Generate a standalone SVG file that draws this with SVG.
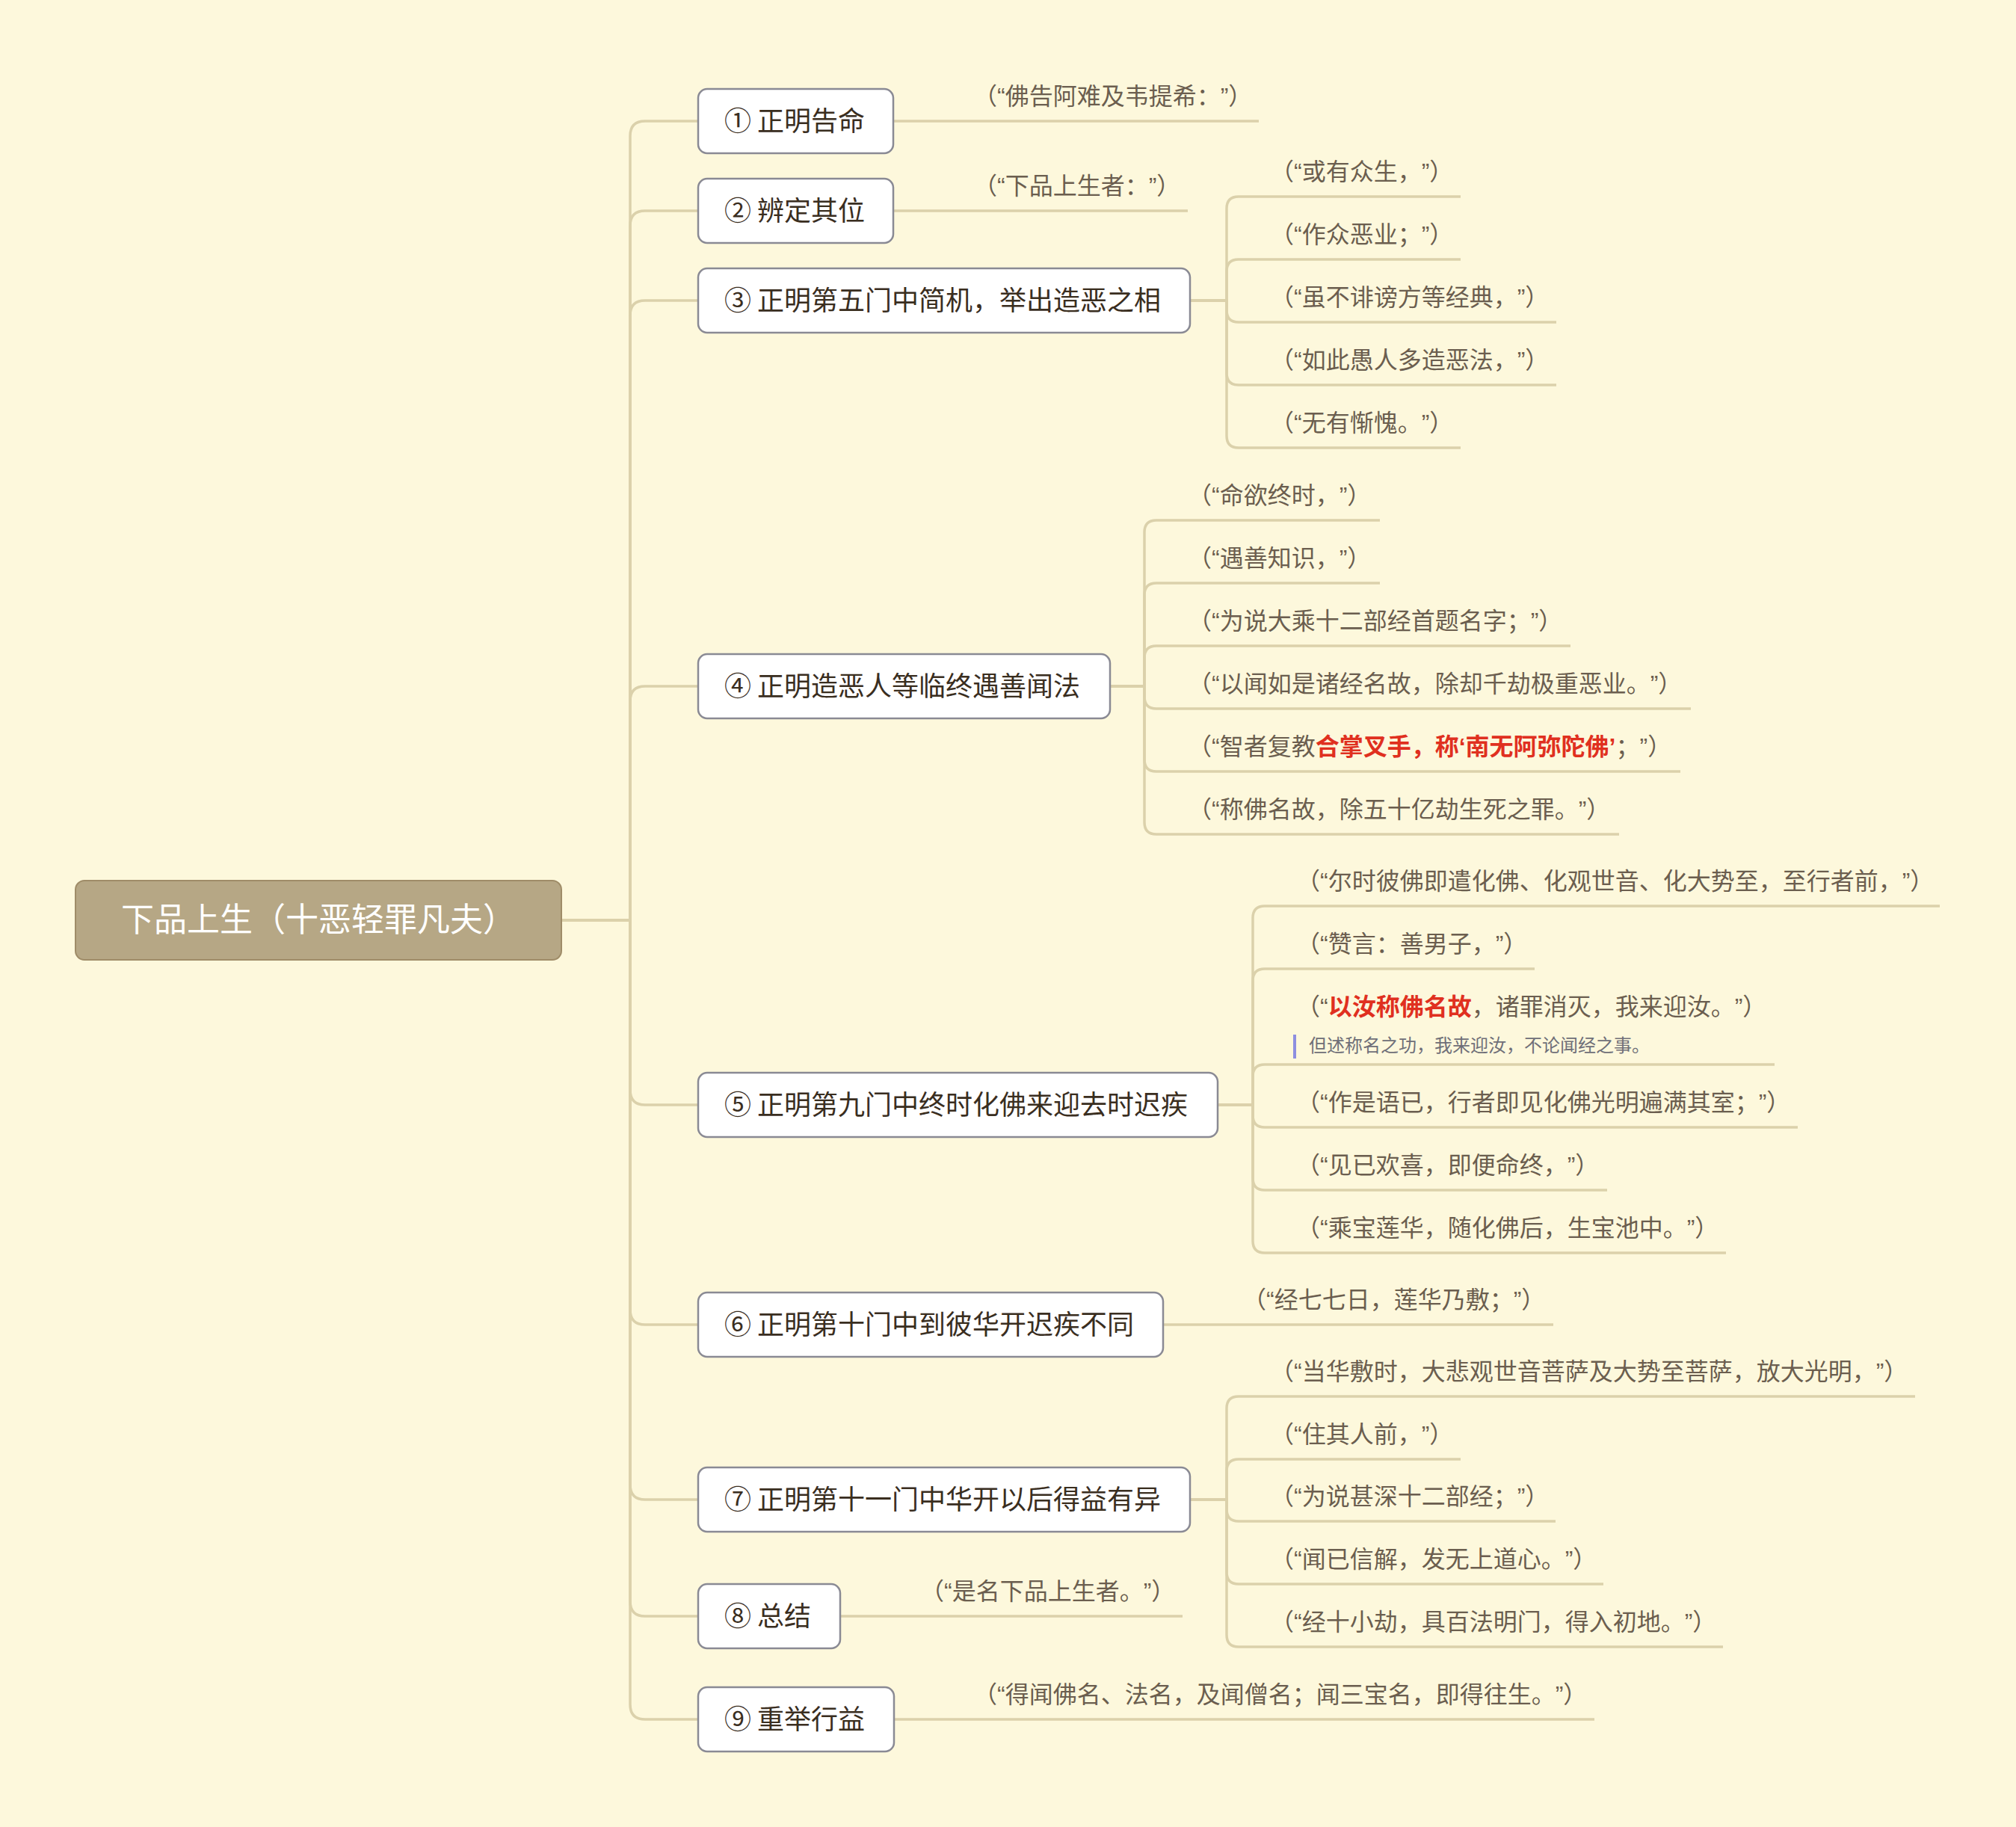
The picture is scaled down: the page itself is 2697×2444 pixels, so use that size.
<svg xmlns="http://www.w3.org/2000/svg" width="2697" height="2444" viewBox="0 0 2697 2444">
<style>
text{text-spacing-trim:space-all;font-feature-settings:"halt" 0,"chws" 0}
.bg{fill:#fdf8dc}
.ln{fill:none;stroke:#dbd1ab;stroke-width:3.5;stroke-linecap:butt}
.root{fill:#b6a785;stroke:#9f8c68;stroke-width:2}
.rt{font-family:"Noto Sans CJK SC",sans-serif;font-size:44px;fill:#ffffff}
.box{fill:#ffffff;stroke:#8a8a94;stroke-width:2.5}
.nt{font-family:"Noto Sans CJK SC",sans-serif;font-size:36px;fill:#3a2e1f}
.lt{font-family:"Liberation Sans","Noto Sans CJK SC",sans-serif;font-size:32px;fill:#6b5e4f}
.red{fill:#e0301f;font-weight:bold}
.note{font-family:"Noto Sans CJK SC",sans-serif;font-size:24px;fill:#6f6f78}
.bar{fill:#8e8fe0}
</style>
<rect class="bg" x="0" y="0" width="2697" height="2444"/>
<g id="connectors">
<path class="ln" d="M751,1231 H843 V182 Q843,162 863,162 H934"/>
<path class="ln" d="M751,1231 H843 V302 Q843,282 863,282 H934"/>
<path class="ln" d="M751,1231 H843 V422 Q843,402 863,402 H934"/>
<path class="ln" d="M751,1231 H843 V938 Q843,918 863,918 H934"/>
<path class="ln" d="M751,1231 H843 V1458 Q843,1478 863,1478 H934"/>
<path class="ln" d="M751,1231 H843 V1752 Q843,1772 863,1772 H934"/>
<path class="ln" d="M751,1231 H843 V1986 Q843,2006 863,2006 H934"/>
<path class="ln" d="M751,1231 H843 V2142 Q843,2162 863,2162 H934"/>
<path class="ln" d="M751,1231 H843 V2280 Q843,2300 863,2300 H934"/>
<path class="ln" d="M1195,162 H1684"/>
<path class="ln" d="M1195,282 H1589"/>
<path class="ln" d="M1592,402 H1641 V279 Q1641,263 1657,263 H1954"/>
<path class="ln" d="M1592,402 H1641 V363 Q1641,347 1657,347 H1954"/>
<path class="ln" d="M1592,402 H1641 V415 Q1641,431 1657,431 H2082"/>
<path class="ln" d="M1592,402 H1641 V499 Q1641,515 1657,515 H2082"/>
<path class="ln" d="M1592,402 H1641 V583 Q1641,599 1657,599 H1954"/>
<path class="ln" d="M1485,918 H1531 V712 Q1531,696 1547,696 H1846"/>
<path class="ln" d="M1485,918 H1531 V796 Q1531,780 1547,780 H1846"/>
<path class="ln" d="M1485,918 H1531 V880 Q1531,864 1547,864 H2101"/>
<path class="ln" d="M1485,918 H1531 V932 Q1531,948 1547,948 H2262"/>
<path class="ln" d="M1485,918 H1531 V1016 Q1531,1032 1547,1032 H2248"/>
<path class="ln" d="M1485,918 H1531 V1100 Q1531,1116 1547,1116 H2166"/>
<path class="ln" d="M1629,1478 H1676 V1228 Q1676,1212 1692,1212 H2595"/>
<path class="ln" d="M1629,1478 H1676 V1312 Q1676,1296 1692,1296 H2053"/>
<path class="ln" d="M1629,1478 H1676 V1440 Q1676,1424 1692,1424 H2374"/>
<path class="ln" d="M1629,1478 H1676 V1492 Q1676,1508 1692,1508 H2405"/>
<path class="ln" d="M1629,1478 H1676 V1576 Q1676,1592 1692,1592 H2150"/>
<path class="ln" d="M1629,1478 H1676 V1660 Q1676,1676 1692,1676 H2309"/>
<path class="ln" d="M1556,1772 H2078"/>
<path class="ln" d="M1592,2006 H1641 V1884 Q1641,1868 1657,1868 H2562"/>
<path class="ln" d="M1592,2006 H1641 V1968 Q1641,1952 1657,1952 H1954"/>
<path class="ln" d="M1592,2006 H1641 V2019 Q1641,2035 1657,2035 H2081"/>
<path class="ln" d="M1592,2006 H1641 V2103 Q1641,2119 1657,2119 H2145"/>
<path class="ln" d="M1592,2006 H1641 V2187 Q1641,2203 1657,2203 H2305"/>
<path class="ln" d="M1124,2162 H1582"/>
<path class="ln" d="M1196,2300 H2133"/>
</g>
<g id="root">
<rect class="root" x="101" y="1178" width="650" height="106" rx="12"/>
<text class="rt" x="426" y="1246" text-anchor="middle">下品上生（十恶轻罪凡夫）</text>
</g>
<g id="n1">
<rect class="box" x="934" y="119" width="261" height="86" rx="12"/>
<text class="nt" x="969" y="175">① 正明告命</text>
</g>
<g id="n2">
<rect class="box" x="934" y="239" width="261" height="86" rx="12"/>
<text class="nt" x="969" y="295">② 辨定其位</text>
</g>
<g id="n3">
<rect class="box" x="934" y="359" width="658" height="86" rx="12"/>
<text class="nt" x="969" y="415">③ 正明第五门中简机，举出造恶之相</text>
</g>
<g id="n4">
<rect class="box" x="934" y="875" width="551" height="86" rx="12"/>
<text class="nt" x="969" y="931">④ 正明造恶人等临终遇善闻法</text>
</g>
<g id="n5">
<rect class="box" x="934" y="1435" width="695" height="86" rx="12"/>
<text class="nt" x="969" y="1491">⑤ 正明第九门中终时化佛来迎去时迟疾</text>
</g>
<g id="n6">
<rect class="box" x="934" y="1729" width="622" height="86" rx="12"/>
<text class="nt" x="969" y="1785">⑥ 正明第十门中到彼华开迟疾不同</text>
</g>
<g id="n7">
<rect class="box" x="934" y="1963" width="658" height="86" rx="12"/>
<text class="nt" x="969" y="2019">⑦ 正明第十一门中华开以后得益有异</text>
</g>
<g id="n8">
<rect class="box" x="934" y="2119" width="190" height="86" rx="12"/>
<text class="nt" x="969" y="2175">⑧ 总结</text>
</g>
<g id="n9">
<rect class="box" x="934" y="2257" width="262" height="86" rx="12"/>
<text class="nt" x="969" y="2313">⑨ 重举行益</text>
</g>
<g id="leaves1">
<text class="lt" x="1302" y="140">（“佛告阿难及韦提希：”）</text>
<text class="lt" x="1302" y="260">（“下品上生者：”）</text>
</g>
<g id="leaves3">
<text class="lt" x="1699" y="241">（“或有众生，”）</text>
<text class="lt" x="1699" y="325">（“作众恶业；”）</text>
<text class="lt" x="1699" y="409">（“虽不诽谤方等经典，”）</text>
<text class="lt" x="1699" y="493">（“如此愚人多造恶法，”）</text>
<text class="lt" x="1699" y="577">（“无有惭愧。”）</text>
</g>
<g id="leaves4">
<text class="lt" x="1589" y="674">（“命欲终时，”）</text>
<text class="lt" x="1589" y="758">（“遇善知识，”）</text>
<text class="lt" x="1589" y="842">（“为说大乘十二部经首题名字；”）</text>
<text class="lt" x="1589" y="926">（“以闻如是诸经名故，除却千劫极重恶业。”）</text>
<text class="lt" x="1589" y="1010">（“智者复教<tspan class="red">合掌叉手，称‘南无阿弥陀佛’</tspan>；”）</text>
<text class="lt" x="1589" y="1094">（“称佛名故，除五十亿劫生死之罪。”）</text>
</g>
<g id="leaves5">
<text class="lt" x="1734" y="1190">（“尔时彼佛即遣化佛、化观世音、化大势至，至行者前，”）</text>
<text class="lt" x="1734" y="1274">（“赞言：善男子，”）</text>
<text class="lt" x="1734" y="1358">（“<tspan class="red">以汝称佛名故</tspan>，诸罪消灭，我来迎汝。”）</text>
<rect class="bar" x="1730" y="1384" width="4" height="32"/>
<text class="note" x="1751" y="1407">但述称名之功，我来迎汝，不论闻经之事。</text>
<text class="lt" x="1734" y="1486">（“作是语已，行者即见化佛光明遍满其室；”）</text>
<text class="lt" x="1734" y="1570">（“见已欢喜，即便命终，”）</text>
<text class="lt" x="1734" y="1654">（“乘宝莲华，随化佛后，生宝池中。”）</text>
</g>
<g id="leaves6">
<text class="lt" x="1662" y="1750">（“经七七日，莲华乃敷；”）</text>
</g>
<g id="leaves7">
<text class="lt" x="1699" y="1846">（“当华敷时，大悲观世音菩萨及大势至菩萨，放大光明，”）</text>
<text class="lt" x="1699" y="1930">（“住其人前，”）</text>
<text class="lt" x="1699" y="2013">（“为说甚深十二部经；”）</text>
<text class="lt" x="1699" y="2097">（“闻已信解，发无上道心。”）</text>
<text class="lt" x="1699" y="2181">（“经十小劫，具百法明门，得入初地。”）</text>
</g>
<g id="leaves89">
<text class="lt" x="1231" y="2140">（“是名下品上生者。”）</text>
<text class="lt" x="1302" y="2278">（“得闻佛名、法名，及闻僧名；闻三宝名，即得往生。”）</text>
</g>
</svg>
